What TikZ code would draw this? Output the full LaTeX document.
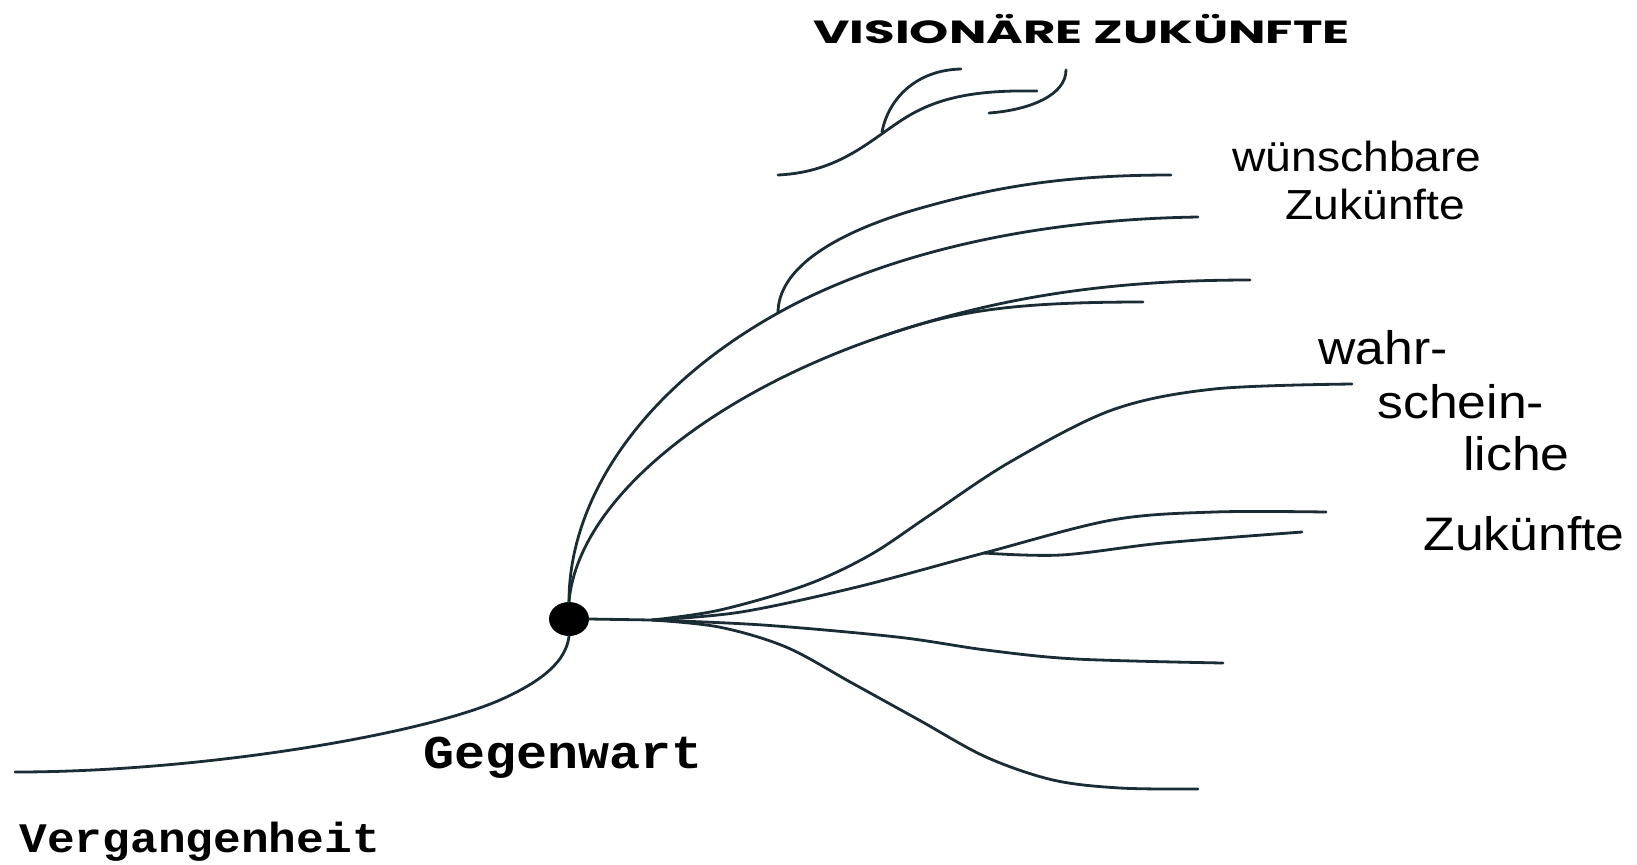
\documentclass[tikz,border=0pt]{standalone}
\usepackage{fontspec}
\setmainfont{Liberation Sans}
\newfontfamily\courfont{Liberation Mono}
\newfontfamily\visfont{Poppins}
\usetikzlibrary{shapes.geometric}
\definecolor{linec}{RGB}{26,44,52}
\newcommand{\stretchtxt}[1]{\scalebox{1.1}[1]{#1}}
\tikzset{
  branch/.style={draw=linec, line width=1.4pt, line cap=round, line join=round},
  lbl/.style={inner sep=0pt, anchor=base west, text=black},
  sm/.style={smooth, tension=0.55}
}
\begin{document}
\begin{tikzpicture}[x=0.5pt, y=-0.5pt]
\useasboundingbox (0,0) rectangle (1637,864);
\fill[white] (0,0) rectangle (1637,864);

% present dot
\node[ellipse, fill=black, minimum width=20pt, minimum height=17pt, inner sep=0pt] (gw) at (569,619) {};

% named points
\coordinate (past) at (15,772);
\coordinate (pastm) at (500,700);
\coordinate (forkA) at (778,313);
\coordinate (w1) at (1171,175);
\coordinate (w2) at (1198,217);
\coordinate (i1) at (1250,280);
\coordinate (forkB) at (880,337);
\coordinate (i2) at (1143,302);
\coordinate (hz) at (652,620);
\coordinate (p1) at (1352,384);
\coordinate (p2) at (1326,512);
\coordinate (forkC) at (984,553);
\coordinate (p2b) at (1302,532);
\coordinate (p3) at (1223,663);
\coordinate (p4) at (1198,789);
\coordinate (v1s) at (778,175);
\coordinate (v1e) at (1037,91);
\coordinate (v2s) at (882,132);
\coordinate (v2e) at (961,69);
\coordinate (v3s) at (989,113);
\coordinate (v3e) at (1066,70);

% past
\draw[branch] (past) .. controls (200,772) and (420,735) .. (pastm)
                     .. controls (545,680) and (566,660) .. (gw.south);

% upper stems (desirable futures)
\draw[branch] (gw.north) .. controls (569,500) and (640,390) .. (forkA)
                         .. controls (860,267) and (1000,220) .. (w2);
\draw[branch] (forkA) .. controls (778,270) and (830,235) .. (914,210)
                      .. controls (990,188) and (1060,175) .. (w1);
\draw[branch] (gw.north) .. controls (578,500) and (710,395) .. (forkB)
                         .. controls (990,299.5) and (1100,280) .. (i1);
\draw[branch] (forkB) .. controls (950,313.1) and (1000,302) .. (i2);

% lower fan (probable futures)
\draw[branch] (gw.east) -- (hz);
\draw[branch] plot[sm] coordinates {(hz) (720,610) (806,585) (870,555) (930,515) (1010,462) (1112,410) (1214,389) (p1)};
\draw[branch] plot[sm] coordinates {(hz) (741,612) (857,587) (forkC) (1112,520) (1214,512) (p2)};
\draw[branch] plot[sm] coordinates {(forkC) (1061,555) (1163,543) (p2b)};
\draw[branch] plot[sm] coordinates {(hz) (763,625) (897,637) (986,650) (1076,659) (p3)};
\draw[branch] plot[sm] coordinates {(hz) (719,627) (786,647) (852,683) (919,720) (986,757) (1053,780) (1120,788) (p4)};

% visionary futures
\draw[branch] (v1s) .. controls (840,172) and (870,140) .. (905,118)
                    .. controls (940,96) and (980,90) .. (v1e);
\draw[branch] (v2s) .. controls (888,100) and (915,70) .. (v2e);
\draw[branch] (v3s) .. controls (1030,110) and (1066,95) .. (v3e);

% labels
\node[lbl] (vis) at (813,43) {\resizebox{268pt}{\height}{\visfont\bfseries\fontsize{16pt}{20pt}\selectfont VISIONÄRE ZUKÜNFTE}};
\node[lbl] (wu1) at (1232,171) {\stretchtxt{\fontsize{21pt}{25pt}\selectfont wünschbare}};
\node[lbl] (wu2) at (1285,219) {\stretchtxt{\fontsize{21pt}{25pt}\selectfont Zukünfte}};
\node[lbl] (wa1) at (1318,364) {\stretchtxt{\fontsize{23.5pt}{28pt}\selectfont wahr-}};
\node[lbl] (wa2) at (1377,418) {\stretchtxt{\fontsize{23.5pt}{28pt}\selectfont schein-}};
\node[lbl] (wa3) at (1463,470) {\stretchtxt{\fontsize{23.5pt}{28pt}\selectfont liche}};
\node[lbl] (wa4) at (1423,550) {\stretchtxt{\fontsize{23.5pt}{28pt}\selectfont Zukünfte}};
\node[lbl] (gwl) at (423,768) {\stretchtxt{\courfont\bfseries\fontsize{23.5pt}{28pt}\selectfont Gegenwart}};
\node[lbl] (vgl) at (19,852) {\stretchtxt{\courfont\bfseries\fontsize{21pt}{25pt}\selectfont Vergangenheit}};
\end{tikzpicture}
\end{document}
